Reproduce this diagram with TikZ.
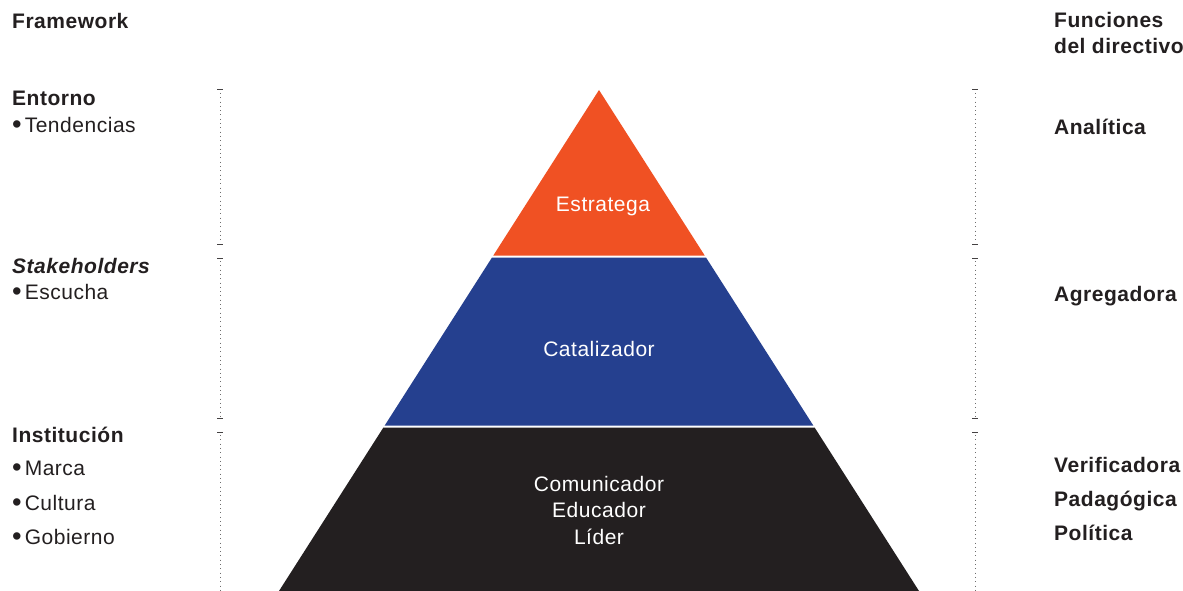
\documentclass[tikz,border=0pt]{standalone}
\usepackage{fontspec}
\setmainfont[LetterSpace=2.5]{Liberation Sans}
\definecolor{ink}{HTML}{231F20}
\definecolor{layerTop}{HTML}{F05123}
\definecolor{layerMid}{HTML}{25408F}
\definecolor{layerBot}{HTML}{231F20}
\definecolor{rule}{HTML}{6E6E6E}
% list bullet: a slightly larger, lowered dot followed by a small gap
\newcommand{\listdot}{\raisebox{-0.08em}{\scalebox{1.3}{\textbullet}}\hspace{3pt}}
\begin{document}
\begin{tikzpicture}[x=1pt,y=-1pt,
  lbl/.style={anchor=base west,inner sep=0pt,text=ink,font=\fontsize{21}{24}\selectfont},
  head/.style={lbl,font=\fontsize{21}{24}\selectfont\bfseries},
  inlbl/.style={anchor=base,inner sep=0pt,text=white,font=\fontsize{21}{24}\selectfont},
  dots/.style={rule,line width=1pt,dash pattern=on 1pt off 3.3pt},
  tick/.style={ink!85,line width=1pt}]
\useasboundingbox[fill=white] (0,0) rectangle (1183,591);

% pyramid layers
\fill[layerTop] (599,90) -- (704.7,255.5) -- (493.3,255.5) -- cycle;
\fill[layerMid] (492.0,257.5) -- (706.0,257.5) -- (813.3,425.5) -- (384.7,425.5) -- cycle;
\fill[layerBot] (383.4,427.5) -- (814.6,427.5) -- (919,591) -- (279,591) -- cycle;

% dotted separators with end ticks
\foreach \xx in {220,975}{
  \foreach \ya/\yb in {90/244,258/418,432/593}{
    \draw[dots] (\xx,\ya+3) -- (\xx,\yb-2);
    \draw[tick] (\xx-3,\ya) -- (\xx+3,\ya);
    \ifnum\yb<590 \draw[tick] (\xx-3,\yb) -- (\xx+3,\yb);\fi
  }
}

% left column
\node[head] (fw) at (12,29) {Framework};
\node[head] (ent) at (12,106) {Entorno};
\node[lbl] (ten) at (12,132) {\listdot Tendencias};
\node[head] (stk) at (12,273) {\itshape Stakeholders};
\node[lbl] (esc) at (12,299) {\listdot Escucha};
\node[head] (ins) at (12,442) {Institución};
\node[lbl] (mar) at (12,475) {\listdot Marca};
\node[lbl] (cul) at (12,510) {\listdot Cultura};
\node[lbl] (gob) at (12,544) {\listdot Gobierno};

% right column
\node[head] (fun) at (1054,28) {Funciones};
\node[head] (dir) at (1054,53.5) {del directivo};
\node[head] (ana) at (1054,135) {Analítica};
\node[head] (agr) at (1054,301) {Agregadora};
\node[head] (ver) at (1054,472.5) {Verificadora};
\node[head] (pad) at (1054,506) {Padagógica};
\node[head] (pol) at (1054,540) {Política};

% layer labels
\node[inlbl] (est) at (603,211) {Estratega};
\node[inlbl] (cat) at (599,356) {Catalizador};
\node[inlbl] (com) at (599,491) {Comunicador};
\node[inlbl] (edu) at (599,517.5) {Educador};
\node[inlbl] (lid) at (599,544) {Líder};
\end{tikzpicture}
\end{document}
